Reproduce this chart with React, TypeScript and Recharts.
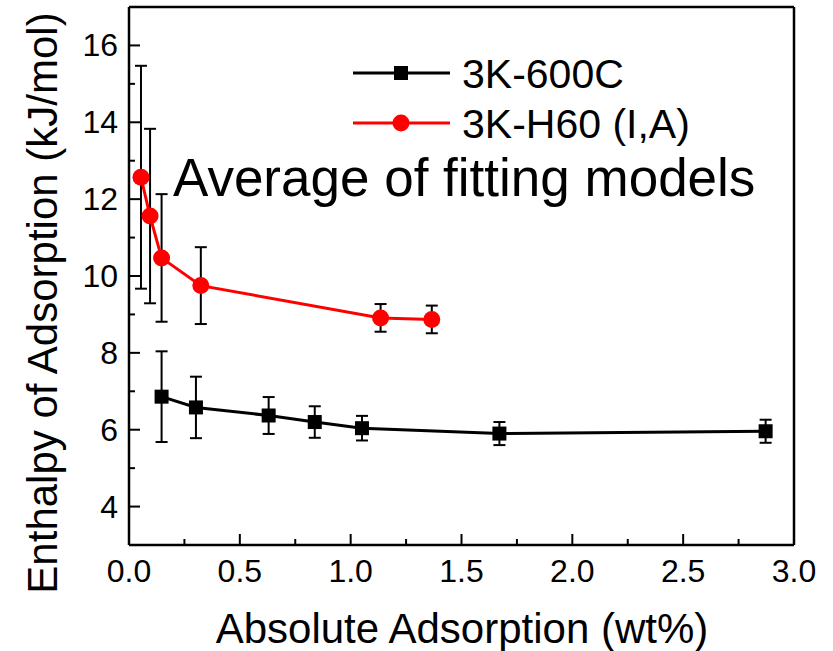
import { ComposedChart, Line, XAxis, YAxis, ErrorBar } from 'recharts';

// 3K-600C (black squares)
const blackX = [0.147, 0.302, 0.63, 0.838, 1.051, 1.671, 2.872];
const blackY = [6.86, 6.58, 6.37, 6.2, 6.04, 5.9, 5.96];
const blackErr = [1.18, 0.8, 0.48, 0.41, 0.32, 0.3, 0.3];

// 3K-H60 (I,A) (red circles)
const redX = [0.054, 0.095, 0.147, 0.324, 1.135, 1.366];
const redY = [12.57, 11.56, 10.47, 9.75, 8.91, 8.87];
const redErr = [2.9, 2.27, 1.66, 1.0, 0.36, 0.36];

const xTicks = [0, 0.25, 0.5, 0.75, 1, 1.25, 1.5, 1.75, 2, 2.25, 2.5, 2.75, 3];
const yTicks = [4, 5, 6, 7, 8, 9, 10, 11, 12, 13, 14, 15, 16];

const FONT = '"Liberation Sans", Arial, sans-serif';

const blackData = blackX.map((x, i) => ({ x, y: blackY[i], err: blackErr[i] }));
const redData = redX.map((x, i) => ({ x, y: redY[i], err: redErr[i] }));

const isMajorX = (v: number) => Math.abs(v * 2 - Math.round(v * 2)) < 1e-6;
const isMajorY = (v: number) => v % 2 === 0;

const BottomTick = ({ x, y, payload }: any) => {
    const v = payload.value;
    const major = isMajorX(v);
    return (
        <g>
            <line x1={x} x2={x} y1={y} y2={y - (major ? 11 : 6)} stroke="#000" strokeWidth={2} />
            {major && (
                <text x={x} y={y + 37} textAnchor="middle" fontSize={32} fontFamily={FONT} fill="#000">
                    {v.toFixed(1)}
                </text>
            )}
        </g>
    );
};

const TopTick = ({ x, y, payload }: any) => {
    const major = isMajorX(payload.value);
    return <line x1={x} x2={x} y1={y} y2={y + (major ? 11 : 6)} stroke="#000" strokeWidth={2} />;
};

const LeftTick = ({ x, y, payload }: any) => {
    const v = payload.value;
    const major = isMajorY(v);
    return (
        <g>
            <line x1={x} x2={x + (major ? 11 : 6)} y1={y} y2={y} stroke="#000" strokeWidth={2} />
            {major && (
                <text x={x - 11} y={y + 11} textAnchor="end" fontSize={32} fontFamily={FONT} fill="#000">
                    {v}
                </text>
            )}
        </g>
    );
};

const RightTick = ({ x, y, payload }: any) => {
    const major = isMajorY(payload.value);
    return <line x1={x} x2={x - (major ? 11 : 6)} y1={y} y2={y} stroke="#000" strokeWidth={2} />;
};

const SquareDot = (p: any) => (
    <rect key={`sq-${p.index}`} x={p.cx - 7} y={p.cy - 7} width={14} height={14} fill="#000" />
);

const axisLine = { stroke: '#000', strokeWidth: 2.5 };

export default function App() {
    return (
        <div style={{ position: 'absolute', left: 0, top: 0, width: 833, height: 651, background: '#fff' }}>
            <ComposedChart width={833} height={651} margin={{ top: 0, right: 0, bottom: 0, left: 0 }}>
                <XAxis
                    dataKey="x"
                    type="number"
                    domain={[0, 3]}
                    ticks={xTicks}
                    interval={0}
                    height={106}
                    tickSize={0}
                    tickMargin={0}
                    tickLine={false}
                    axisLine={axisLine}
                    tick={<BottomTick />}
                    label={{
                        content: () => (
                            <text x={462} y={643} textAnchor="middle" fontSize={42} fontFamily={FONT} fill="#000">
                                Absolute Adsorption (wt%)
                            </text>
                        ),
                    }}
                />
                <XAxis
                    xAxisId="top"
                    orientation="top"
                    dataKey="x"
                    type="number"
                    domain={[0, 3]}
                    ticks={xTicks}
                    interval={0}
                    height={7}
                    tickSize={0}
                    tickMargin={0}
                    tickLine={false}
                    axisLine={axisLine}
                    tick={<TopTick />}
                />
                <YAxis
                    type="number"
                    domain={[3, 17]}
                    ticks={yTicks}
                    interval={0}
                    width={129}
                    tickSize={0}
                    tickMargin={0}
                    tickLine={false}
                    axisLine={axisLine}
                    tick={<LeftTick />}
                    label={{
                        content: () => (
                            <text
                                x={57}
                                y={303}
                                transform="rotate(-90 57 303)"
                                textAnchor="middle"
                                fontSize={42}
                                fontFamily={FONT}
                                fill="#000"
                            >
                                Enthalpy of Adsorption (kJ/mol)
                            </text>
                        ),
                    }}
                />
                <YAxis
                    yAxisId="right"
                    orientation="right"
                    type="number"
                    domain={[3, 17]}
                    ticks={yTicks}
                    interval={0}
                    width={39}
                    tickSize={0}
                    tickMargin={0}
                    tickLine={false}
                    axisLine={axisLine}
                    tick={<RightTick />}
                />
                <Line
                    data={blackData}
                    dataKey="y"
                    type="linear"
                    stroke="#000"
                    strokeWidth={3}
                    dot={SquareDot}
                    activeDot={false}
                    isAnimationActive={false}
                >
                    <ErrorBar dataKey="err" direction="y" width={6} stroke="#000" strokeWidth={2} />
                </Line>
                <Line
                    data={redData}
                    dataKey="y"
                    type="linear"
                    stroke="#ff0000"
                    strokeWidth={3}
                    dot={{ r: 8.5, fill: '#ff0000', stroke: 'none' }}
                    activeDot={false}
                    isAnimationActive={false}
                >
                    <ErrorBar dataKey="err" direction="y" width={6} stroke="#000" strokeWidth={2} />
                </Line>
            </ComposedChart>
            <svg
                width={833}
                height={651}
                style={{ position: 'absolute', left: 0, top: 0, pointerEvents: 'none' }}
            >
                <line x1={353} x2={450} y1={73} y2={73} stroke="#000" strokeWidth={3} />
                <rect x={394} y={66} width={14} height={14} fill="#000" />
                <text x={462} y={88} fontSize={41} fontFamily={FONT} fill="#000">3K-600C</text>
                <line x1={353} x2={450} y1={123} y2={123} stroke="#ff0000" strokeWidth={3} />
                <circle cx={401} cy={123} r={8.5} fill="#ff0000" />
                <text x={462} y={138} fontSize={41} fontFamily={FONT} fill="#000">3K-H60 (I,A)</text>
                <text x={173} y={196} fontSize={53} fontFamily={FONT} fill="#000">Average of fitting models</text>
            </svg>
        </div>
    );
}
